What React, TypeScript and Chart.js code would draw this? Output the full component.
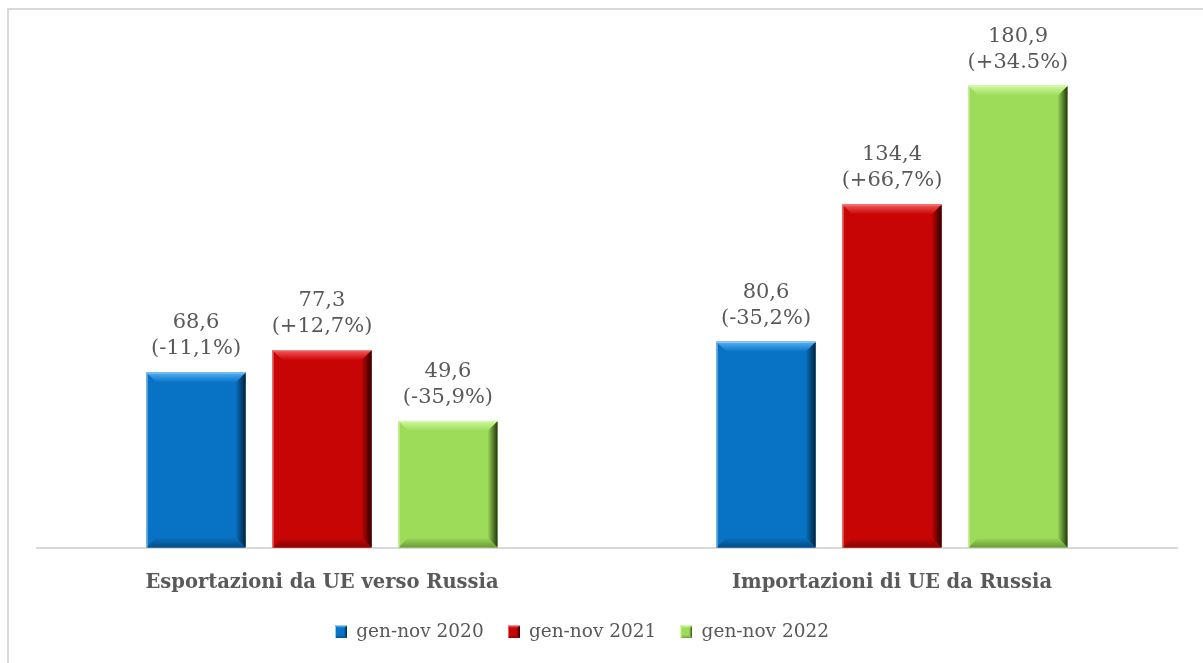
import { useEffect, useRef } from "react";
import { Chart, registerables } from "chart.js";

Chart.register(...registerables);

const categories = ["Esportazioni da UE verso Russia", "Importazioni di UE da Russia"];
const seriesNames = ["gen-nov 2020", "gen-nov 2021", "gen-nov 2022"];
const values2020 = [68.6, 80.6];
const values2021 = [77.3, 134.4];
const values2022 = [49.6, 180.9];
const change2020 = ["(-11,1%)", "(-35,2%)"];
const change2021 = ["(+12,7%)", "(+66,7%)"];
const change2022 = ["(-35,9%)", "(+34.5%)"];

const seriesValues = [values2020, values2021, values2022];
const seriesChanges = [change2020, change2021, change2022];

type Pal = { base: string; light: string; dark: string; bottom: string; edge: string };
const palettes: Pal[] = [
  { base: "#0872c4", light: "#55b2f7", dark: "#03223a", bottom: "#064c84", edge: "#9ccbf0" },
  { base: "#c80505", light: "#f75858", dark: "#2a0000", bottom: "#8a0303", edge: "#f29090" },
  { base: "#9cdc58", light: "#d0f99f", dark: "#24360d", bottom: "#6c9a3a", edge: "#d8f7b4" },
];

const FONT = '"DejaVu Serif", serif';
const TEXT = "#595959";

function poly(ctx: CanvasRenderingContext2D, pts: number[][], fill: any) {
  ctx.beginPath();
  ctx.moveTo(pts[0][0], pts[0][1]);
  for (let i = 1; i < pts.length; i++) ctx.lineTo(pts[i][0], pts[i][1]);
  ctx.closePath();
  ctx.fillStyle = fill;
  ctx.fill();
}

function drawBevel(ctx: CanvasRenderingContext2D, l: number, t: number, r: number, b: number, p: Pal, s: number) {
  ctx.save();
  ctx.fillStyle = p.base;
  ctx.fillRect(l, t, r - l, b - t);
  // bottom
  let g = ctx.createLinearGradient(0, b - s, 0, b);
  g.addColorStop(0, p.base);
  g.addColorStop(1, p.bottom);
  poly(ctx, [[l, b], [r, b], [r - s, b - s], [l + s, b - s]], g);
  // right
  g = ctx.createLinearGradient(r - s, 0, r, 0);
  g.addColorStop(0, p.base);
  g.addColorStop(1, p.dark);
  poly(ctx, [[r, t], [r, b], [r - s, b - s], [r - s, t + s]], g);
  // top
  g = ctx.createLinearGradient(0, t, 0, t + s);
  g.addColorStop(0, p.light);
  g.addColorStop(1, p.base);
  poly(ctx, [[l, t], [r, t], [r - s, t + s], [l + s, t + s]], g);
  // thin light edge
  ctx.strokeStyle = p.edge;
  ctx.lineWidth = 1;
  ctx.beginPath();
  ctx.moveTo(l + 0.5, b);
  ctx.lineTo(l + 0.5, t + 0.5);
  ctx.lineTo(r, t + 0.5);
  ctx.stroke();
  ctx.restore();
}

function fmt(v: number) {
  return v.toFixed(1).replace(".", ",");
}

export default function App() {
  const ref = useRef<HTMLCanvasElement | null>(null);

  useEffect(() => {
    const canvas = ref.current;
    if (!canvas) return;

    const icons = palettes.map((p) => {
      const c = document.createElement("canvas");
      c.width = 12;
      c.height = 13;
      const cx = c.getContext("2d")!;
      drawBevel(cx, 0, 0, 12, 13, p, 3);
      return c;
    });

    const frame = {
      id: "frame",
      beforeDraw(chart: any) {
        const ctx = chart.ctx;
        ctx.save();
        ctx.fillStyle = "#ffffff";
        ctx.fillRect(0, 0, chart.width, chart.height);
        ctx.fillStyle = "#d9d9d9";
        ctx.fillRect(20, 8, chart.width, 2);
        ctx.fillRect(20, 8, 2, chart.height);
        ctx.restore();
      },
    };

    const bevelAndLabels = {
      id: "bevelAndLabels",
      afterDatasetsDraw(chart: any) {
        const ctx = chart.ctx;
        chart.data.datasets.forEach((_ds: any, di: number) => {
          const meta = chart.getDatasetMeta(di);
          meta.data.forEach((el: any, i: number) => {
            const { x, y, base, width } = el.getProps(["x", "y", "base", "width"], true);
            drawBevel(ctx, x - width / 2, y, x + width / 2, base, palettes[di], 10);
            ctx.save();
            ctx.font = `21px ${FONT}`;
            ctx.fillStyle = TEXT;
            ctx.textAlign = "center";
            ctx.textBaseline = "alphabetic";
            ctx.fillText(fmt(seriesValues[di][i]), x, y - 44);
            ctx.fillText(seriesChanges[di][i], x, y - 18);
            ctx.restore();
          });
        });
      },
    };

    const chart = new Chart(canvas, {
      type: "bar",
      data: {
        labels: categories,
        datasets: seriesNames.map((name, di) => ({
          label: name,
          data: seriesValues[di],
          backgroundColor: palettes[di].base,
          borderWidth: 0,
          barPercentage: 0.786,
          categoryPercentage: 0.663,
        })),
      },
      options: {
        animation: false,
        responsive: false,
        layout: { padding: { left: 0, right: 26, top: 37, bottom: 29 } },
        scales: {
          x: {
            grid: { display: false, drawTicks: false },
            border: { display: true, color: "#d9d9d9", width: 2 },
            ticks: {
              font: { family: FONT, size: 19.5, weight: "bold" },
              color: TEXT,
              padding: 24,
            },
            afterFit: (s: any) => {
              s.height = 51;
            },
          },
          y: {
            display: true,
            min: 0,
            max: 200,
            ticks: { display: false },
            grid: { display: false },
            border: { display: false },
            afterFit: (s: any) => {
              s.width = 50;
            },
          },
        },
        plugins: {
          tooltip: { enabled: false },
          legend: {
            position: "bottom",
            labels: {
              font: { family: FONT, size: 18.5 },
              color: TEXT,
              boxWidth: 12,
              boxHeight: 12,
              usePointStyle: true,
              padding: 24,
              generateLabels: (c: any) => {
                const items = (Chart as any).defaults.plugins.legend.labels.generateLabels(c);
                return items.map((it: any, i: number) => ({ ...it, pointStyle: icons[i] }));
              },
            },
          },
        },
      } as any,
      plugins: [frame, bevelAndLabels],
    });

    return () => chart.destroy();
  }, []);

  return (
    <div
      style={{
        position: "fixed",
        left: 0,
        top: 0,
        width: 1203,
        height: 663,
        overflow: "hidden",
        background: "#fff",
      }}
    >
      <canvas
        ref={ref}
        width={1216}
        height={680}
        style={{ position: "absolute", left: -13, top: 0, width: 1216, height: 680, display: "block" }}
      />
    </div>
  );
}
